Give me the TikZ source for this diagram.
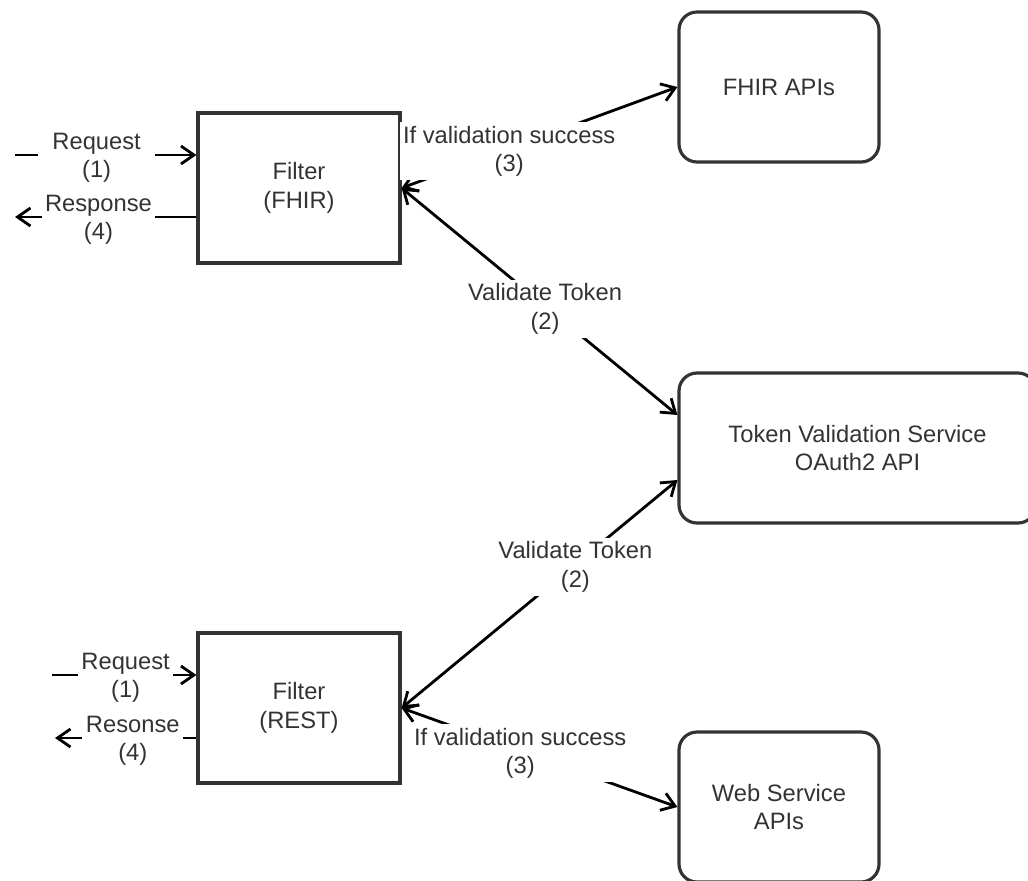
\documentclass[tikz,border=0pt]{standalone}
\usepackage{fontspec}
\setmainfont{Liberation Sans}
\usepackage{xcolor}
\usetikzlibrary{positioning,arrows.meta}
\definecolor{boxgray}{HTML}{333333}
\tikzset{
  filterbox/.style={draw=boxgray, line width=1.8pt, minimum width=4.04cm, minimum height=3cm, align=center, text=boxgray},
  apibox/.style={filterbox, rounded corners=0.36cm, minimum width=4cm},
  flow/.style={line width=1.6pt, -{Straight Barb[length=2.6mm,width=3.6mm]}},
  twoway/.style={line width=1.6pt, {Straight Barb[length=2.6mm,width=3.6mm]}-{Straight Barb[length=2.6mm,width=3.6mm]}},
  lbl/.style={fill=white, align=center, inner sep=2pt, yshift=-1.5pt, text=boxgray}
}

\begin{document}
\begin{tikzpicture}[font=\fontsize{13.5}{16.3}\selectfont]
    \useasboundingbox (0,0) rectangle (20.56,-17.6);

    % Boxes
    \node[filterbox] (filterF) at (5.98,-3.76) {Filter\\(FHIR)};
    \node[apibox] (fhirapi) at (15.58,-1.74) {FHIR APIs};
    \node[apibox, minimum width=7.14cm] (token) at (17.15,-8.96) {Token Validation Service\\OAuth2 API};
    \node[filterbox] (filterR) at (5.98,-14.16) {Filter\\(REST)};
    \node[apibox] (websvc) at (15.58,-16.14) {Web Service\\APIs};

    % Client side
    \coordinate (reqF) at (0.3,-3.1);
    \coordinate (respF) at (0.3,-4.34);
    \coordinate (reqR) at (1.04,-13.5);
    \coordinate (respR) at (1.1,-14.76);

    % FHIR
    \draw[flow] (reqF) -- node[lbl, pos=0.45, inner xsep=8pt] {Request\\(1)} (reqF -| filterF.west);
    \draw[flow] (respF -| filterF.west) -- node[lbl, pos=0.54] {Response\\(4)} (respF);
    \draw[twoway] (filterF.east) -- node[lbl, pos=0.39] {If validation success\\(3)} (fhirapi.west);
    \draw[twoway] (filterF.east) -- node[lbl, pos=0.52] {Validate Token\\(2)} ([yshift=0.66cm]token.west);

    % REST
    \draw[flow] (reqR) -- node[lbl, pos=0.51] {Request\\(1)} (reqR -| filterR.west);
    \draw[flow] (respR -| filterR.west) -- node[lbl, pos=0.45] {Resonse\\(4)} (respR);
    \draw[twoway] ([yshift=-0.64cm]token.west) -- node[lbl, pos=0.37] {Validate Token\\(2)} (filterR.east);
    \draw[twoway] (filterR.east) -- node[lbl, pos=0.43] {If validation success\\(3)} (websvc.west);
\end{tikzpicture}
\end{document}
